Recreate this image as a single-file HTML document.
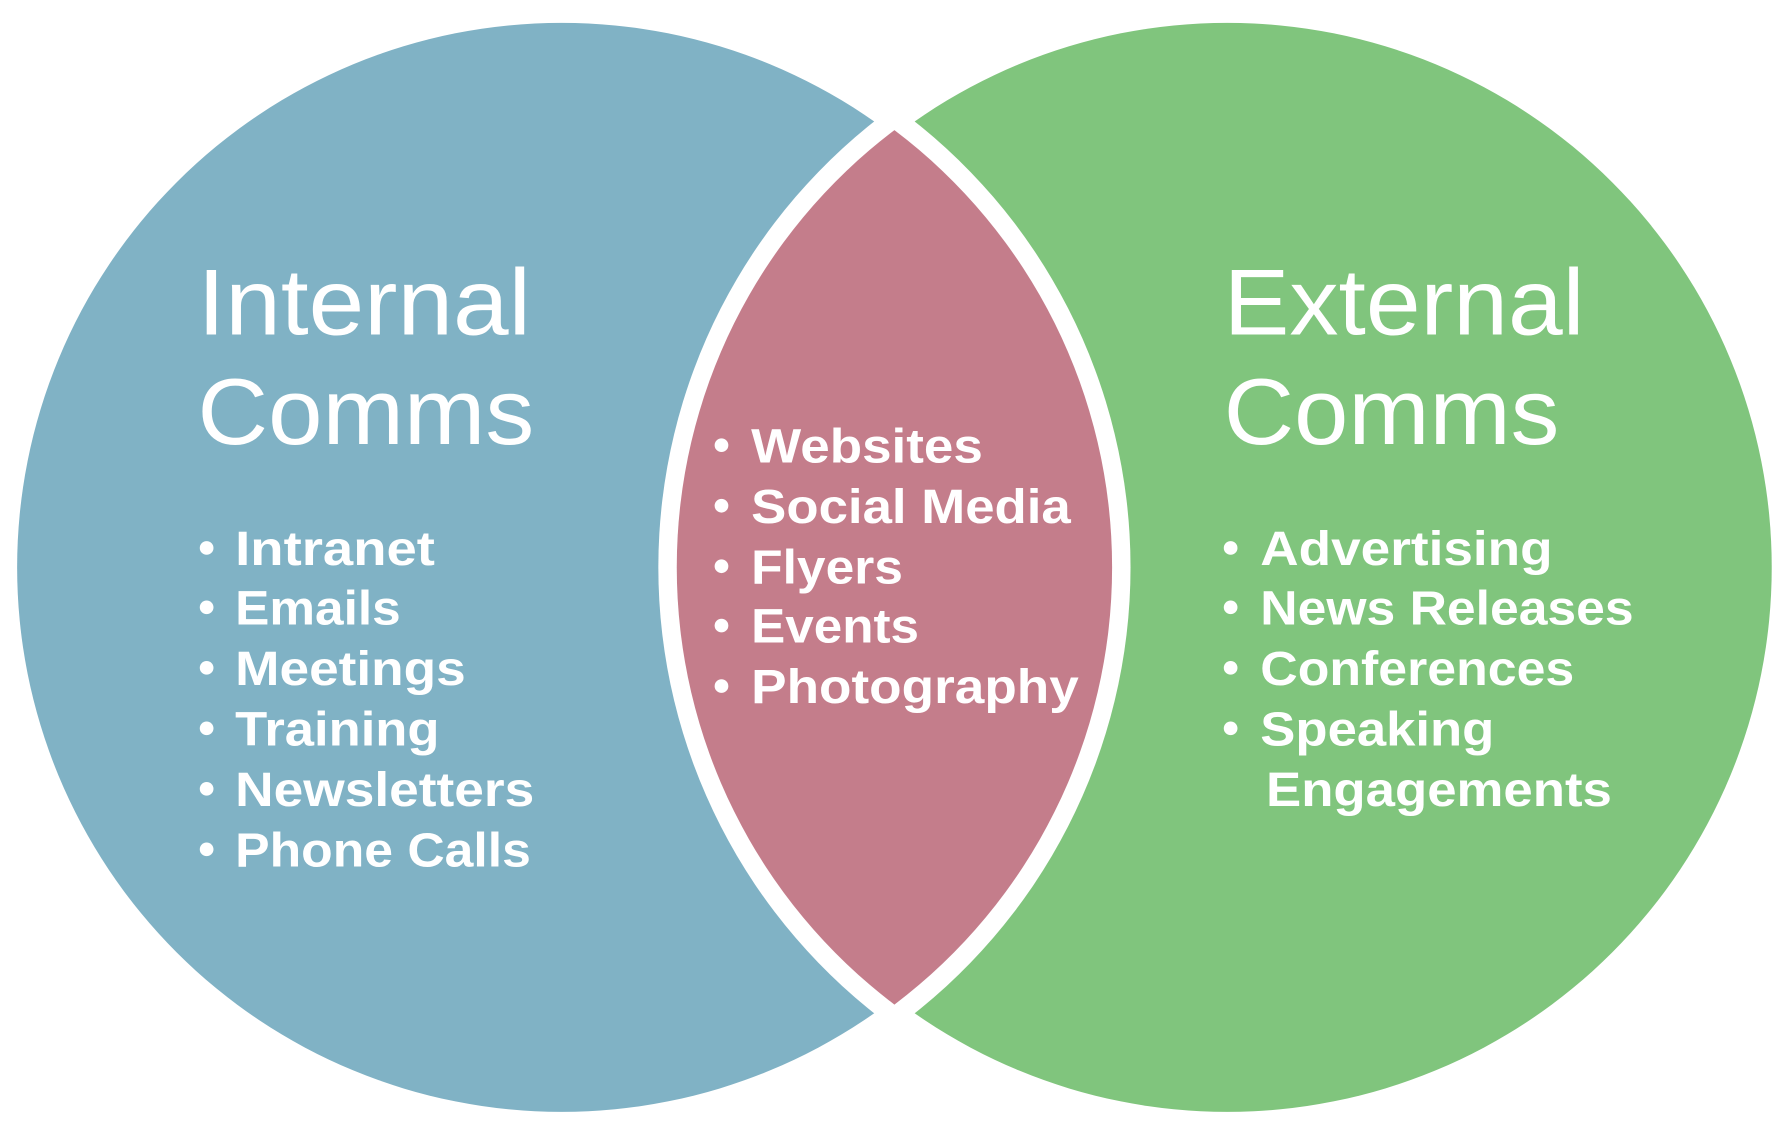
<!DOCTYPE html>
<html><head><meta charset="utf-8"><style>html,body{margin:0;padding:0;background:#fff}svg{display:block}</style></head>
<body>
<svg width="1790" height="1137" viewBox="0 0 1568 996" preserveAspectRatio="none" xmlns="http://www.w3.org/2000/svg">
<rect width="1568" height="996" fill="#fff"/>
<circle cx="492" cy="497" r="477" fill="#80B2C5"/>
<circle cx="1075" cy="497" r="477" fill="#80C57D"/>
<path d="M783.5 93 A498 498 0 0 1 783.5 901 A498 498 0 0 1 783.5 93 Z" fill="#fff"/>
<path d="M783.5 114 A480 480 0 0 1 783.5 880 A480 480 0 0 1 783.5 114 Z" fill="#C47D8B"/>
<g font-family="Liberation Sans, sans-serif" fill="#fff">
<g font-size="82" font-weight="normal">
<text x="173" y="293" textLength="292" lengthAdjust="spacingAndGlyphs">Internal</text>
<text x="173" y="389" textLength="295" lengthAdjust="spacingAndGlyphs">Comms</text>
<text x="1072" y="293" textLength="316" lengthAdjust="spacingAndGlyphs">External</text>
<text x="1072" y="389" textLength="294" lengthAdjust="spacingAndGlyphs">Comms</text>
</g>
<g font-size="42" font-weight="bold">
<circle cx="181" cy="480" r="6"/><text x="206" y="495" textLength="175" lengthAdjust="spacingAndGlyphs">Intranet</text>
<circle cx="181" cy="532" r="6"/><text x="206" y="547" textLength="145" lengthAdjust="spacingAndGlyphs">Emails</text>
<circle cx="181" cy="585" r="6"/><text x="206" y="600" textLength="202" lengthAdjust="spacingAndGlyphs">Meetings</text>
<circle cx="181" cy="638" r="6"/><text x="206" y="653" textLength="179" lengthAdjust="spacingAndGlyphs">Training</text>
<circle cx="181" cy="691" r="6"/><text x="206" y="706" textLength="262" lengthAdjust="spacingAndGlyphs">Newsletters</text>
<circle cx="181" cy="744" r="6"/><text x="206" y="759" textLength="259" lengthAdjust="spacingAndGlyphs">Phone Calls</text>

<circle cx="632" cy="390" r="6"/><text x="658" y="405" textLength="203" lengthAdjust="spacingAndGlyphs">Websites</text>
<circle cx="632" cy="443" r="6"/><text x="658" y="458" textLength="280" lengthAdjust="spacingAndGlyphs">Social Media</text>
<circle cx="632" cy="496" r="6"/><text x="658" y="511" textLength="133" lengthAdjust="spacingAndGlyphs">Flyers</text>
<circle cx="632" cy="548" r="6"/><text x="658" y="563" textLength="147" lengthAdjust="spacingAndGlyphs">Events</text>
<circle cx="632" cy="601" r="6"/><text x="658" y="616" textLength="287" lengthAdjust="spacingAndGlyphs">Photography</text>

<circle cx="1078" cy="480" r="6"/><text x="1104" y="495" textLength="256" lengthAdjust="spacingAndGlyphs">Advertising</text>
<circle cx="1078" cy="532" r="6"/><text x="1104" y="547" textLength="327" lengthAdjust="spacingAndGlyphs">News Releases</text>
<circle cx="1078" cy="585" r="6"/><text x="1104" y="600" textLength="275" lengthAdjust="spacingAndGlyphs">Conferences</text>
<circle cx="1078" cy="638" r="6"/><text x="1104" y="653" textLength="205" lengthAdjust="spacingAndGlyphs">Speaking</text>
<text x="1109" y="706" textLength="303" lengthAdjust="spacingAndGlyphs">Engagements</text>
</g>
</g>
</svg>
</body></html>
